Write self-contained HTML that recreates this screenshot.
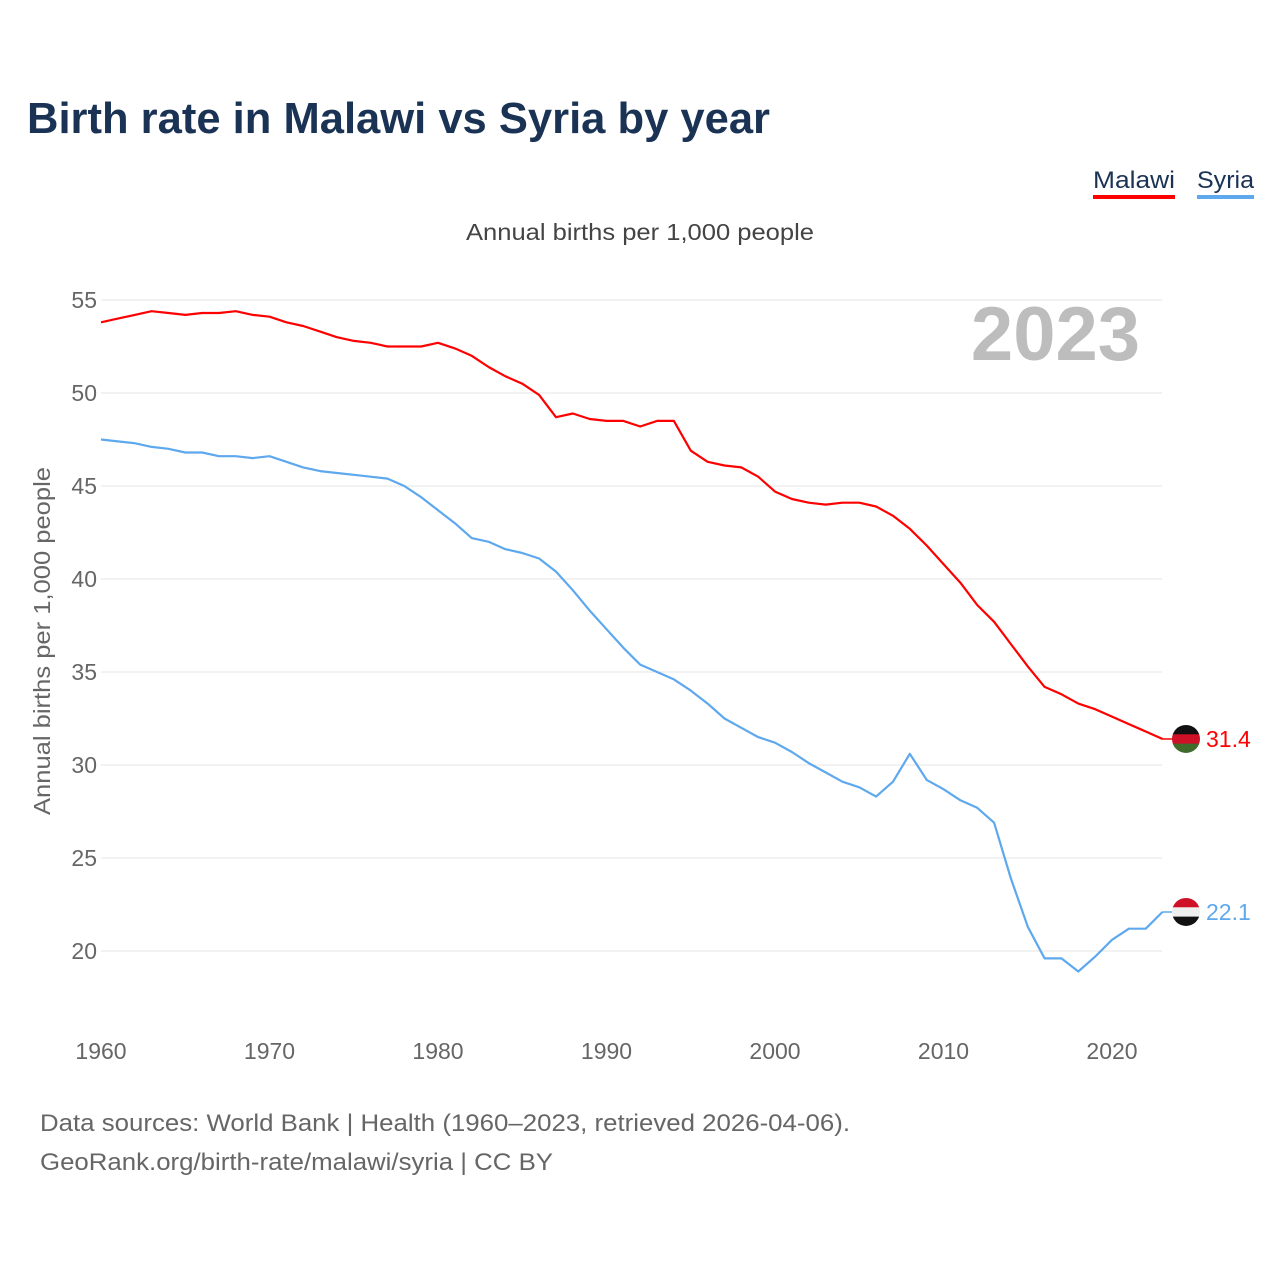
<!DOCTYPE html>
<html><head><meta charset="utf-8"><style>
body{margin:0;background:#fff;font-family:"Liberation Sans",sans-serif;}
svg text{font-family:"Liberation Sans",sans-serif;}
</style></head><body>
<svg width="1280" height="1280" xmlns="http://www.w3.org/2000/svg">
<text x="27" y="133" font-size="44" font-weight="bold" fill="#1a3355" textLength="743" lengthAdjust="spacingAndGlyphs">Birth rate in Malawi vs Syria by year</text>
<g>
<g><text x="1093" y="188" font-size="24" fill="#1a3355" textLength="82" lengthAdjust="spacingAndGlyphs">Malawi</text><rect x="1093" y="195" width="82" height="4" fill="#ff0000"/></g>
<g><text x="1197" y="188" font-size="24" fill="#1a3355" textLength="57" lengthAdjust="spacingAndGlyphs">Syria</text><rect x="1197" y="195" width="57" height="4" fill="#5ea8ee"/></g>
</g>
<text x="466" y="240" font-size="23" fill="#444" textLength="348" lengthAdjust="spacingAndGlyphs">Annual births per 1,000 people</text>
<text x="1140" y="360" font-size="76" font-weight="bold" fill="#bdbdbd" text-anchor="end">2023</text>
<text transform="translate(50,815) rotate(-90)" font-size="23" fill="#666" textLength="348" lengthAdjust="spacingAndGlyphs">Annual births per 1,000 people</text>
<g id="grid"></g><g id="yt"></g><g id="xt"></g><g id="lines"></g><g id="ends"></g>
<text x="40" y="1131" font-size="24" fill="#666" textLength="810" lengthAdjust="spacingAndGlyphs">Data sources: World Bank | Health (1960–2023, retrieved 2026-04-06).</text>
<text x="40" y="1170" font-size="24" fill="#666" textLength="513" lengthAdjust="spacingAndGlyphs">GeoRank.org/birth-rate/malawi/syria | CC BY</text>
</svg>
<script>
const years=[];for(let y=1960;y<=2023;y++)years.push(y);
const malawi=[53.8,54.0,54.2,54.4,54.3,54.2,54.3,54.3,54.4,54.2,54.1,53.8,53.6,53.3,53.0,52.8,52.7,52.5,52.5,52.5,52.7,52.4,52.0,51.4,50.9,50.5,49.9,48.7,48.9,48.6,48.5,48.5,48.2,48.5,48.5,46.9,46.3,46.1,46.0,45.5,44.7,44.3,44.1,44.0,44.1,44.1,43.9,43.4,42.7,41.8,40.8,39.8,38.6,37.7,36.5,35.3,34.2,33.8,33.3,33.0,32.6,32.2,31.8,31.4];
const syria=[47.5,47.4,47.3,47.1,47.0,46.8,46.8,46.6,46.6,46.5,46.6,46.3,46.0,45.8,45.7,45.6,45.5,45.4,45.0,44.4,43.7,43.0,42.2,42.0,41.6,41.4,41.1,40.4,39.4,38.3,37.3,36.3,35.4,35.0,34.6,34.0,33.3,32.5,32.0,31.5,31.2,30.7,30.1,29.6,29.1,28.8,28.3,29.1,30.6,29.2,28.7,28.1,27.7,26.9,23.9,21.3,19.6,19.6,18.9,19.7,20.6,21.2,21.2,22.1];
const yTicks=[20,25,30,35,40,45,50,55];
const xTicks=[1960,1970,1980,1990,2000,2010,2020];
const NS="http://www.w3.org/2000/svg";
const X=y=>101+(y-1960)*(1011/60);
const Y=v=>300+(55-v)*(651/35);
function mk(t,a,p,txt){const e=document.createElementNS(NS,t);for(const k in a)e.setAttribute(k,a[k]);if(txt!=null)e.textContent=txt;document.getElementById(p).appendChild(e);return e;}
yTicks.forEach(v=>{
 const l=mk('line',{x1:101,x2:1162,y1:Y(v),y2:Y(v),stroke:'#e6e6e6','stroke-width':1},'grid');
 
 
 const t=mk('text',{x:97,y:Y(v)+8,'font-size':23,fill:'#666','text-anchor':'end'},'yt',v);
 
 
});
xTicks.forEach(v=>{
 const t=mk('text',{x:X(v),y:1059,'font-size':23,fill:'#666','text-anchor':'middle'},'xt',v);
 
 
});
function line(d,c,name){
 const p=mk('path',{d:d.map((v,i)=>(i?'L':'M')+X(years[i]).toFixed(1)+','+Y(v).toFixed(1)).join(''),fill:'none',stroke:c,'stroke-width':2.2,'stroke-linejoin':'round'},'lines');
 
 
}
line(syria,'#5ea8ee','syria-line');
line(malawi,'#ff0000','malawi-line');
function end(d,c,name,flag){
 const v=d[d.length-1],yy=Y(v),cx=1186;
 mk('line',{x1:X(2023),x2:cx,y1:yy,y2:yy,stroke:c,'stroke-width':1.5},'ends');
 const g=mk('g',{},'ends');
 
 
 const id='c'+name;
 const cp=document.createElementNS(NS,'clipPath');cp.setAttribute('id',id);
 const cc=document.createElementNS(NS,'circle');cc.setAttribute('cx',cx);cc.setAttribute('cy',yy);cc.setAttribute('r',14);cp.appendChild(cc);g.appendChild(cp);
 flag.forEach((col,i)=>{const r=document.createElementNS(NS,'rect');r.setAttribute('x',cx-14);r.setAttribute('y',yy-14+i*28/3);r.setAttribute('width',28);r.setAttribute('height',28/3+0.5);r.setAttribute('fill',col);r.setAttribute('clip-path','url(#'+id+')');g.appendChild(r);});
 const t=mk('text',{x:1206,y:yy+8,'font-size':23,fill:c},'ends',v.toFixed(1));
 
 
}
end(malawi,'#ff0000','malawi',['#111','#ce1126','#3f6b2b']);
end(syria,'#5ea8ee','syria',['#ce1126','#eee','#111']);
</script>
</body></html>
